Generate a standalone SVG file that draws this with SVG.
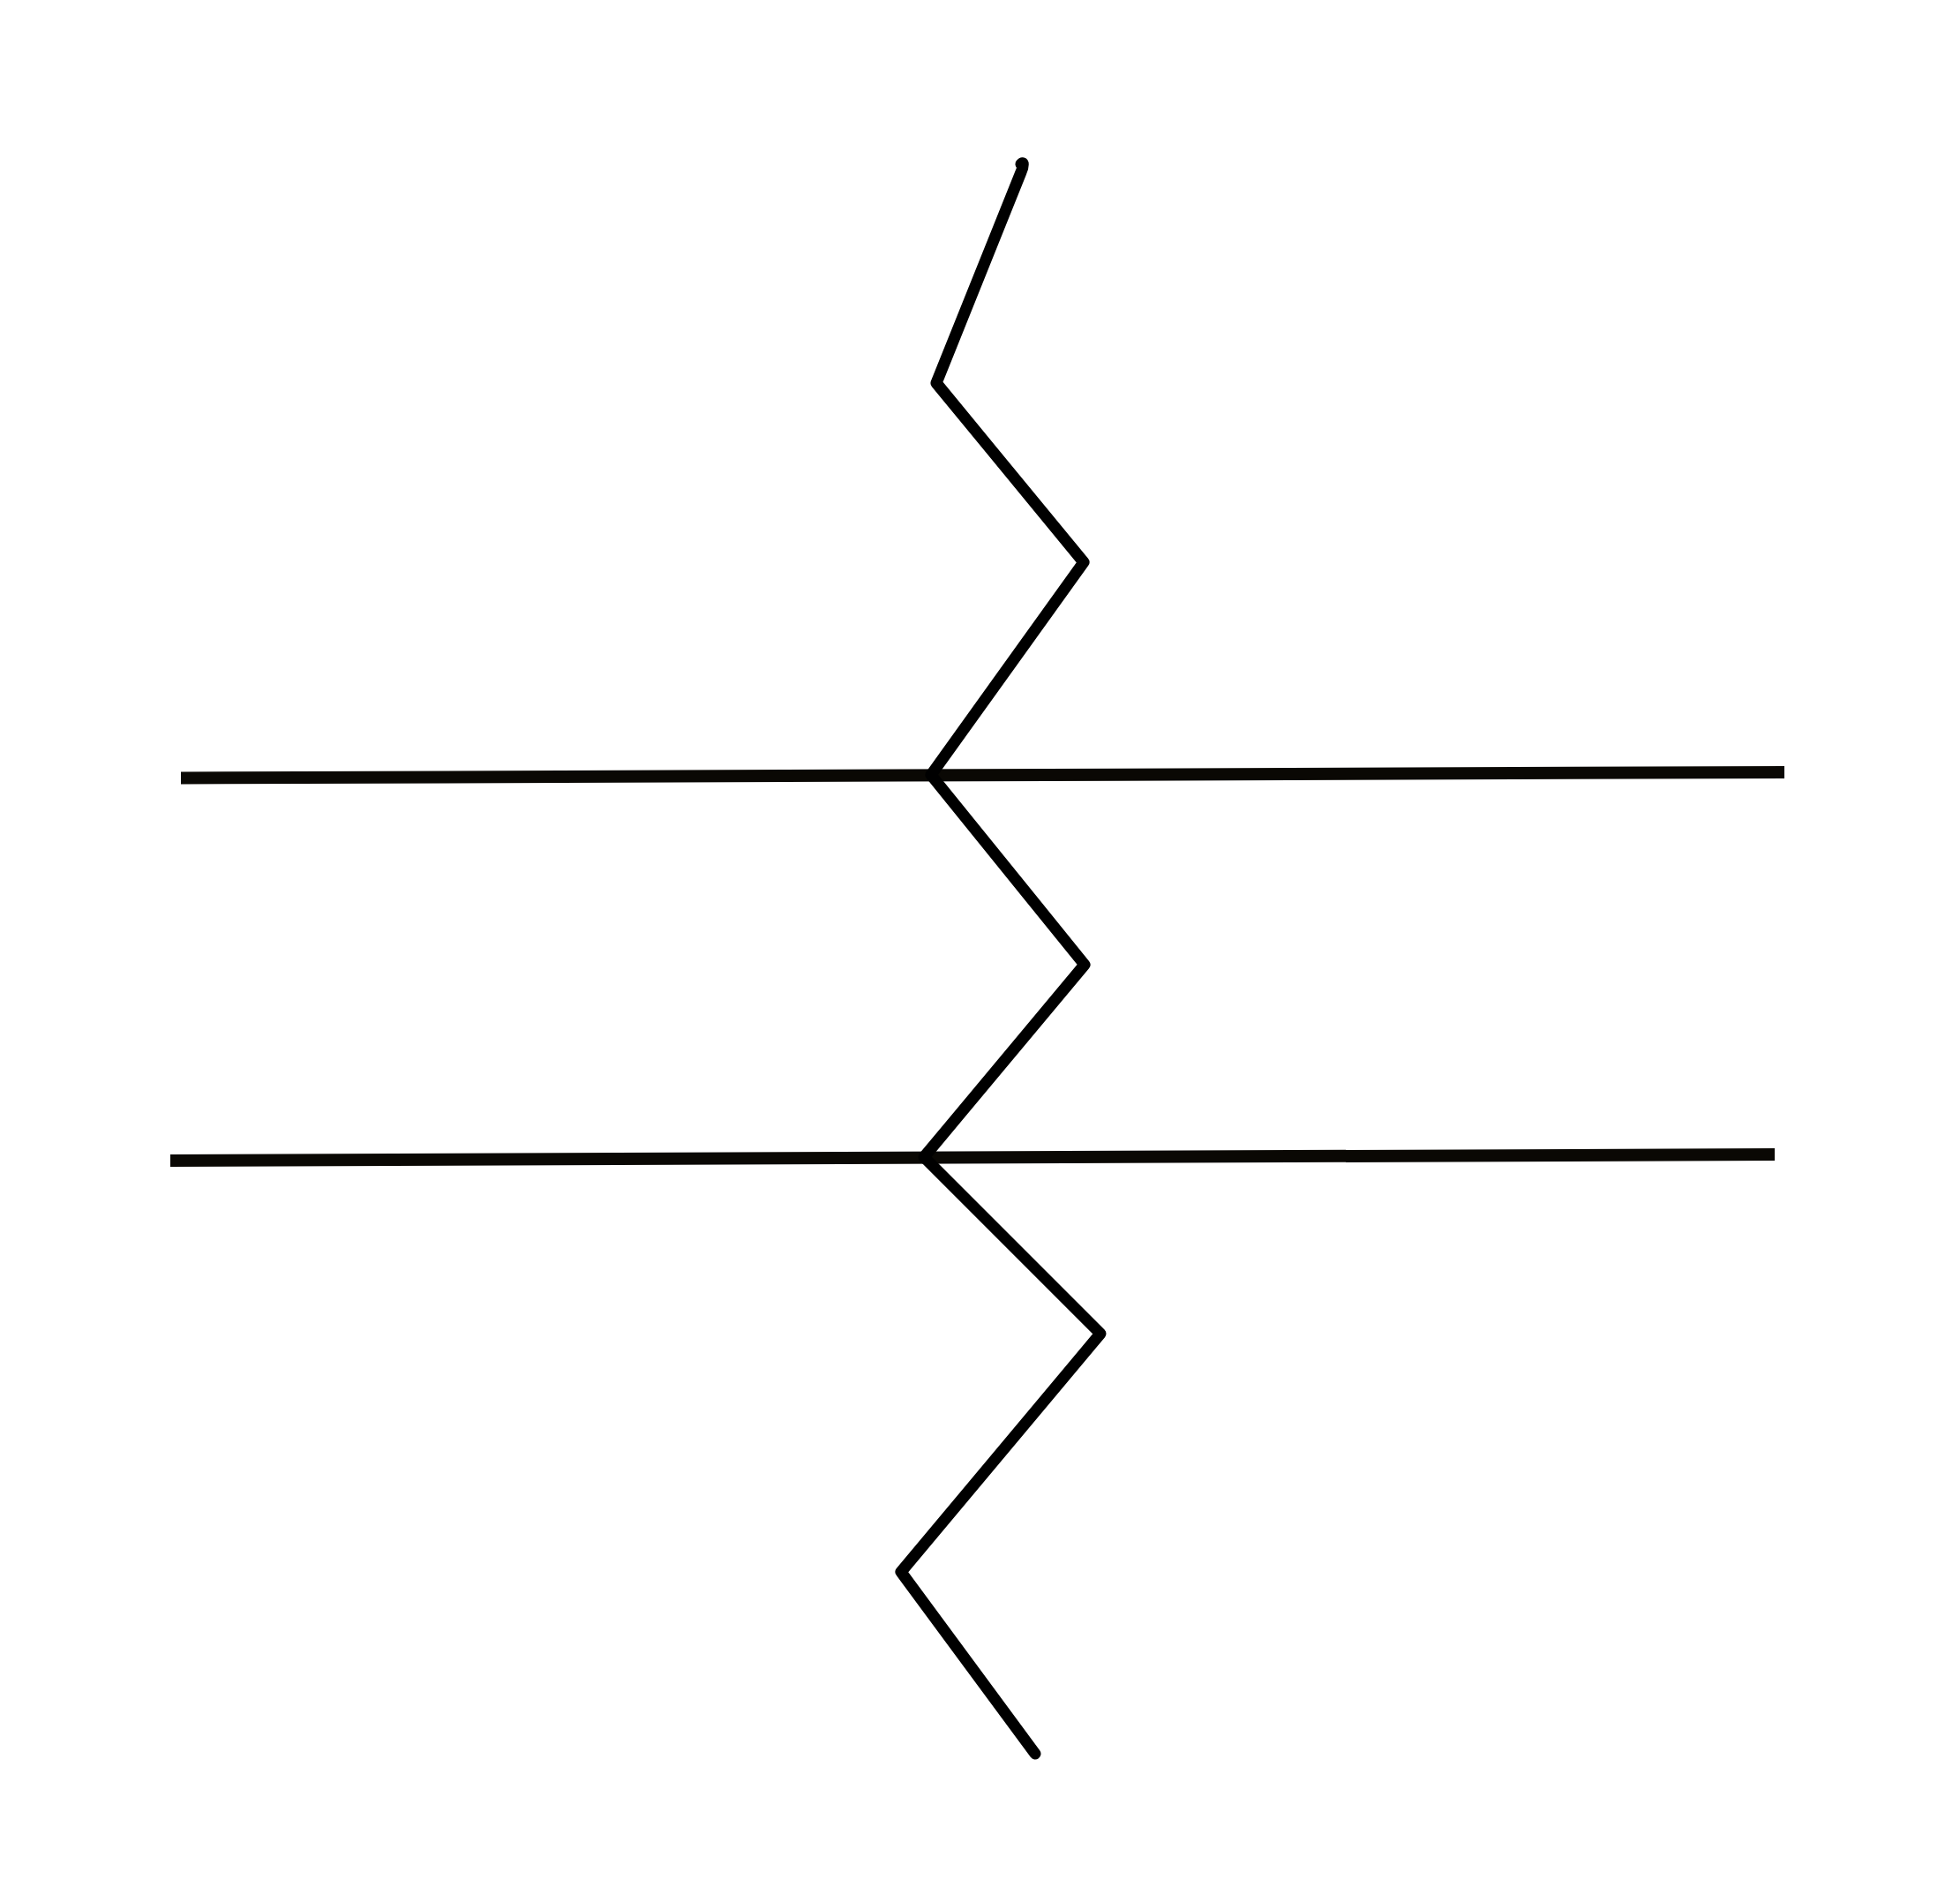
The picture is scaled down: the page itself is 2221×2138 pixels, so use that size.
<svg xmlns="http://www.w3.org/2000/svg" width="2221" height="2138" viewBox="0 0 2221 2138">
<style>
.ln{fill:none;stroke:#0a0804;stroke-width:14}
.zz{fill:none;stroke:#000;stroke-width:13;stroke-linejoin:round;stroke-linecap:round}
</style>
<rect width="2221" height="2138" fill="#fff"/>
<g id="lines">
<line class="ln" x1="205" y1="881.5" x2="2022" y2="875"/>
<line class="ln" x1="193" y1="1315" x2="2011" y2="1308"/>
</g>
<g id="zigzag">
<path class="zz" d="M1157,186 C1160,182 1160,188 1157,195 L1061,434 L1228,637 L1055,878 L1229,1093 L1047,1311 L1247,1511 L1021,1781 L1173,1987"/>
</g>
</svg>
